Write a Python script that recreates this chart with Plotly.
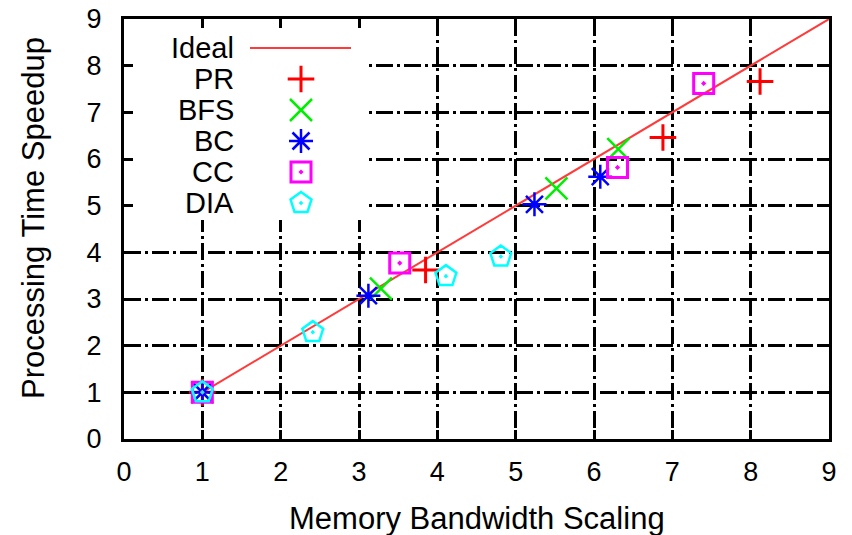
import plotly.graph_objects as go

# ---- data ----
ideal_x = [1, 9]
ideal_y = [1, 9]
pr_x = [1, 3.85, 6.88, 8.12]
pr_y = [1, 3.62, 6.46, 7.66]
bfs_x = [1, 3.28, 5.52, 6.31]
bfs_y = [1, 3.22, 5.37, 6.21]
bc_x = [1, 3.12, 5.24, 6.08]
bc_y = [1, 3.07, 5.03, 5.62]
cc_x = [1, 3.52, 6.30, 7.40]
cc_y = [1, 3.77, 5.82, 7.62]
dia_x = [1, 2.41, 4.11, 4.81]
dia_y = [1, 2.29, 3.49, 3.91]
tick_vals = list(range(0, 10))
legend_names = ["Ideal", "PR", "BFS", "BC", "CC", "DIA"]

FONT = "Liberation Sans, Arial, sans-serif"

series = [
    ("PR", pr_x, pr_y, dict(symbol="cross-thin-open", size=19, color="#ff0000", line=dict(width=3, color="#ff0000"))),
    ("BFS", bfs_x, bfs_y, dict(symbol="x-thin-open", size=22, color="#00ee00", line=dict(width=2.5, color="#00ee00"))),
    ("BC", bc_x, bc_y, dict(symbol="asterisk-open", size=20, color="#0000ff", line=dict(width=2.5, color="#0000ff"))),
    ("CC", cc_x, cc_y, dict(symbol="square-open-dot", size=20, color="#ff00ff", line=dict(width=3, color="#ff00ff"))),
    ("DIA", dia_x, dia_y, dict(symbol="pentagon-open-dot", size=22, color="#00ffff", line=dict(width=2.5, color="#00ffff"))),
]

fig = go.Figure()
fig.add_trace(go.Scatter(x=ideal_x, y=ideal_y, mode="lines",
                         line=dict(color="#ff3a3a", width=2), showlegend=False))
for name, xs, ys, mk in series:
    fig.add_trace(go.Scatter(x=xs, y=ys, mode="markers", marker=mk, showlegend=False, name=name))

# ---- custom gnuplot-style key (text left, sample right) ----
px_l, px_r, py_t, py_b = 124, 829, 19, 439
def pxx(p):
    return (p - px_l) / (px_r - px_l)
def pyy(p):
    return (py_b - p) / (py_b - py_t)

key_y = [48, 79, 110, 141, 172, 203]
text_x = pxx(236)
sample_x = pxx(301)

# opaque key box (hides the grid behind the key, like gnuplot)
bx0, bx1, by0, by1 = 0.003, pxx(366), pyy(220), 0.995
fig.add_trace(go.Scatter(x=[bx0, bx1, bx1, bx0, bx0], y=[by0, by0, by1, by1, by0],
                         mode="lines", fill="toself", fillcolor="white",
                         line=dict(width=0, color="white"), xaxis="x2", yaxis="y2",
                         showlegend=False, hoverinfo="skip"))

annotations = []
for nm, yy in zip(legend_names, key_y):
    annotations.append(dict(x=text_x, y=pyy(yy), xref="paper", yref="paper", text=nm,
                            showarrow=False, xanchor="right", yanchor="middle",
                            font=dict(family=FONT, size=29, color="black")))

fig.add_trace(go.Scatter(x=[pxx(250), pxx(351)], y=[pyy(key_y[0])] * 2, mode="lines",
                         line=dict(color="#ff3a3a", width=2), xaxis="x2", yaxis="y2",
                         showlegend=False, hoverinfo="skip"))
for (name, xs, ys, mk), yy in zip(series, key_y[1:]):
    fig.add_trace(go.Scatter(x=[sample_x], y=[pyy(yy)], mode="markers", marker=mk,
                             xaxis="x2", yaxis="y2", showlegend=False, hoverinfo="skip"))

annotations.append(dict(x=0.5, y=pyy(518), xref="paper", yref="paper",
                        text="Memory Bandwidth Scaling", showarrow=False,
                        xanchor="center", yanchor="middle",
                        font=dict(family=FONT, size=31, color="black")))
annotations.append(dict(x=pxx(33), y=pyy(218), xref="paper", yref="paper",
                        text="Processing Time Speedup", showarrow=False, textangle=-90,
                        xanchor="center", yanchor="middle",
                        font=dict(family=FONT, size=31, color="black")))

grid_dash = "17px,4px,3px,4px"
axis_common = dict(
    range=[0, 9], tickvals=tick_vals, showgrid=True, gridcolor="black", gridwidth=3,
    griddash=grid_dash, zeroline=False, showline=True, linecolor="black", linewidth=3,
    mirror="ticks", ticks="inside", ticklen=9, tickwidth=3, tickcolor="black",
    tickfont=dict(family=FONT, size=27, color="black"), layer="above traces",
)

fig.update_layout(
    width=852, height=535,
    margin=dict(l=px_l, r=852 - px_r, t=py_t, b=535 - py_b, autoexpand=False),
    paper_bgcolor="white", plot_bgcolor="white",
    xaxis=dict(**axis_common, ticklabelstandoff=7),
    yaxis=dict(**axis_common, ticklabelstandoff=14),
    xaxis2=dict(overlaying="x", range=[0, 1], visible=False, fixedrange=True),
    yaxis2=dict(overlaying="y", range=[0, 1], visible=False, fixedrange=True),
    annotations=annotations,
    showlegend=False,
)

fig.write_html("out.html")
